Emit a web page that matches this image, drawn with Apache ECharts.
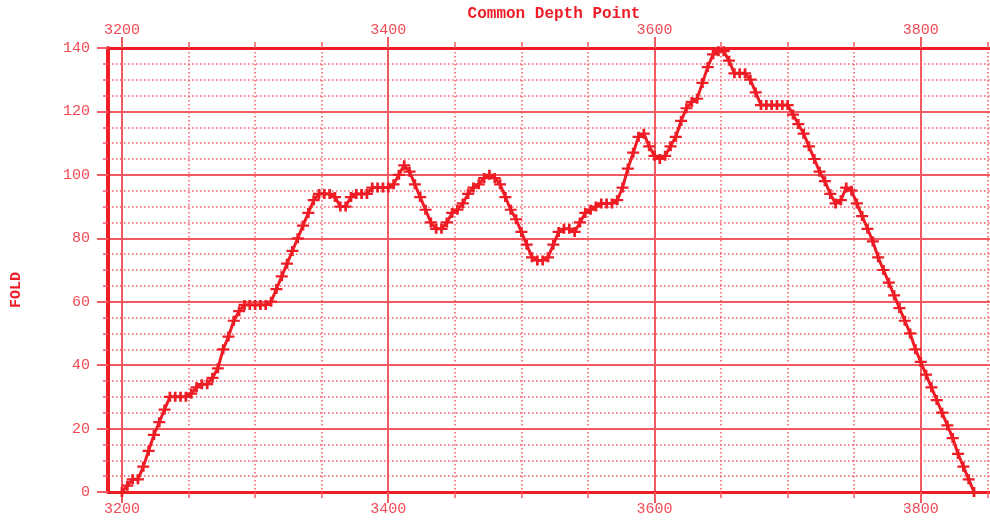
<!DOCTYPE html>
<html>
<head>
<meta charset="utf-8">
<script src="https://cdn.jsdelivr.net/npm/echarts@6/dist/echarts.min.js"></script>
<style>
  html, body { margin: 0; padding: 0; background: #fff; }
  #chart { width: 990px; height: 523px; }
</style>
</head>
<body>
<div id="chart"></div>
<script>
// CDP positions (every 4th)
const cdp = [
  3200, 3204, 3208, 3212, 3216, 3220, 3224, 3228, 3232, 3236,
  3240, 3244, 3248, 3252, 3256, 3260, 3264, 3268, 3272, 3276,
  3280, 3284, 3288, 3292, 3296, 3300, 3304, 3308, 3312, 3316,
  3320, 3324, 3328, 3332, 3336, 3340, 3344, 3348, 3352, 3356,
  3360, 3364, 3368, 3372, 3376, 3380, 3384, 3388, 3392, 3396,
  3400, 3404, 3408, 3412, 3416, 3420, 3424, 3428, 3432, 3436,
  3440, 3444, 3448, 3452, 3456, 3460, 3464, 3468, 3472, 3476,
  3480, 3484, 3488, 3492, 3496, 3500, 3504, 3508, 3512, 3516,
  3520, 3524, 3528, 3532, 3536, 3540, 3544, 3548, 3552, 3556,
  3560, 3564, 3568, 3572, 3576, 3580, 3584, 3588, 3592, 3596,
  3600, 3604, 3608, 3612, 3616, 3620, 3624, 3628, 3632, 3636,
  3640, 3644, 3648, 3652, 3656, 3660, 3664, 3668, 3672, 3676,
  3680, 3684, 3688, 3692, 3696, 3700, 3704, 3708, 3712, 3716,
  3720, 3724, 3728, 3732, 3736, 3740, 3744, 3748, 3752, 3756,
  3760, 3764, 3768, 3772, 3776, 3780, 3784, 3788, 3792, 3796,
  3800, 3804, 3808, 3812, 3816, 3820, 3824, 3828, 3832, 3836,
  3840
];
// fold
const fold = [
  0, 2, 4, 4, 8, 13, 18, 22, 26, 30,
  30, 30, 30, 31, 33, 34, 34, 36, 39, 45,
  49, 54, 57, 59, 59, 59, 59, 59, 60, 64,
  68, 72, 76, 80, 84, 88, 92, 94, 94, 94,
  93, 90, 90, 93, 94, 94, 94, 96, 96, 96,
  96, 97, 100, 103, 101, 97, 93, 89, 85, 83,
  83, 85, 88, 89, 91, 94, 96, 97, 99, 100,
  99, 97, 93, 89, 86, 82, 78, 74, 73, 73,
  74, 78, 82, 83, 83, 82, 85, 88, 89, 90,
  91, 91, 91, 92, 96, 102, 107, 112, 113, 109,
  106, 105, 106, 109, 112, 117, 121, 123, 124, 129,
  134, 138, 139, 139, 136, 132, 132, 132, 130, 126,
  122, 122, 122, 122, 122, 122, 119, 116, 113, 109,
  105, 101, 98, 94, 91, 92, 96, 95, 91, 87,
  83, 79, 74, 70, 66, 62, 58, 54, 50, 45,
  41, 37, 33, 29, 25, 21, 17, 12, 8, 4,
  0
];
const xMinorTicks = [3200, 3250, 3300, 3350, 3400, 3450, 3500, 3550, 3600, 3650, 3700, 3750, 3800, 3850];
const xMajorTicks = [3200, 3400, 3600, 3800];

const RED = '#ee1c25';
const GRID_RED = '#f25a62';
const LABEL_RED = '#f04a54';
const xMin = 3189.5, xMax = 3852;

const myChart = echarts.init(document.getElementById('chart'));

const labelStyle = {
  color: LABEL_RED,
  fontFamily: 'Liberation Mono',
  fontSize: 15,
  formatter: function (v) { return String(v); }
};

function xAxisDef(pos, major) {
  return {
    type: 'value',
    position: pos,
    min: xMin,
    max: xMax,
    axisLine: major ? {show: false} : {show: true, onZero: false, lineStyle: {color: RED, width: 3}},
    axisTick: {
      show: true,
      customValues: major ? xMajorTicks : xMinorTicks,
      length: major ? 11 : 6,
      lineStyle: {color: GRID_RED, width: major ? 2 : 1.5}
    },
    axisLabel: major ? {show: false} : Object.assign({
      customValues: xMajorTicks,
      margin: 10
    }, labelStyle),
    splitLine: pos === 'bottom' ? {
      show: true,
      lineStyle: major ? {color: GRID_RED, width: 2} : {color: GRID_RED, width: 1.5, type: [1.5, 2.5]}
    } : {show: false}
  };
}

const option = {
  animation: false,
  backgroundColor: '#fff',
  title: {
    text: 'Common Depth Point',
    left: 549,
    top: 1,
    textAlign: 'center',
    textStyle: {color: RED, fontFamily: 'Liberation Mono', fontWeight: 'bold', fontSize: 16}
  },
  grid: {left: 108, top: 48, right: 0, bottom: 31, containLabel: false, outerBoundsMode: 'none'},
  xAxis: [
    xAxisDef('bottom', false),
    xAxisDef('bottom', true),
    xAxisDef('top', false),
    xAxisDef('top', true)
  ],
  yAxis: {
    type: 'value',
    min: 0,
    max: 140,
    interval: 20,
    axisLine: {show: true, onZero: false, lineStyle: {color: RED, width: 4}},
    axisTick: {show: true, length: 11, lineStyle: {color: GRID_RED, width: 2}},
    minorTick: {show: true, splitNumber: 4, length: 5, lineStyle: {color: GRID_RED, width: 1.5}},
    axisLabel: Object.assign({margin: 18}, labelStyle),
    splitLine: {show: true, lineStyle: {color: GRID_RED, width: 2}},
    minorSplitLine: {show: true, lineStyle: {color: GRID_RED, width: 1.5, type: [1.5, 2.5]}}
  },
  graphic: [{
    type: 'text',
    left: 9,
    top: 272,
    rotation: Math.PI / 2,
    style: {
      text: 'FOLD',
      fill: RED,
      font: 'bold 15px "Liberation Mono"'
    }
  }],
  series: [{
    type: 'line',
    xAxisIndex: 0,
    data: cdp.map((c, i) => [c, fold[i]]),
    symbol: 'path://M0,3.5H4.25V0H6.75V3.5H11V5.5H6.75V9H4.25V5.5H0Z',
    symbolSize: [12, 10],
    showAllSymbol: true,
    itemStyle: {color: RED},
    lineStyle: {color: RED, width: 3},
    z: 5
  }]
};

myChart.setOption(option);
window.onresize = function () {
  myChart.resize();
};
</script>
</body>
</html>
